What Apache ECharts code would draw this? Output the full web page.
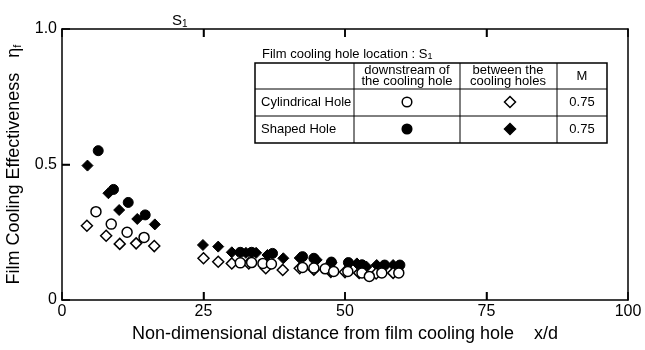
<!DOCTYPE html>
<html>
<head>
<meta charset="utf-8">
<script src="https://cdn.jsdelivr.net/npm/echarts@6/dist/echarts.min.js"></script>
<style>
  html, body { margin: 0; padding: 0; background: #fff; }
  #chart { width: 645px; height: 350px; }
</style>
</head>
<body>
<div id="chart"></div>
<script>
// cylindrical hole, downstream of the cooling hole (open circle)
var openCircleX = [6.0, 8.7, 11.5, 14.5, 31.5, 33.5, 35.5, 37.0, 42.5, 44.5, 46.5, 48.0, 50.5, 53.0, 54.3, 56.5, 59.5];
var openCircleY = [0.326, 0.280, 0.250, 0.231, 0.137, 0.138, 0.135, 0.133, 0.120, 0.118, 0.115, 0.105, 0.105, 0.100, 0.087, 0.100, 0.100];
// cylindrical hole, between the cooling holes (open diamond)
var openDiamondX = [4.4, 7.8, 10.2, 13.1, 16.3, 25.0, 27.6, 30.0, 33.0, 36.0, 39.0, 42.0, 44.5, 47.5, 50.0, 52.5, 55.5, 58.5];
var openDiamondY = [0.274, 0.237, 0.207, 0.209, 0.199, 0.154, 0.141, 0.135, 0.135, 0.117, 0.111, 0.117, 0.112, 0.104, 0.103, 0.100, 0.098, 0.100];
// shaped hole, downstream (filled circle)
var filledCircleX = [6.4, 9.1, 11.7, 14.7, 31.5, 33.5, 37.2, 42.5, 44.5, 47.6, 50.6, 53.0, 57.0, 59.7];
var filledCircleY = [0.551, 0.408, 0.360, 0.314, 0.176, 0.176, 0.172, 0.160, 0.154, 0.140, 0.138, 0.130, 0.129, 0.129];
// shaped hole, between (filled diamond)
var filledDiamondX = [4.5, 8.2, 10.1, 13.3, 16.4, 24.9, 27.6, 30.0, 32.5, 34.3, 36.3, 39.1, 42.0, 45.0, 47.6, 52.1, 53.8, 55.6, 58.5];
var filledDiamondY = [0.496, 0.394, 0.332, 0.299, 0.279, 0.203, 0.197, 0.176, 0.174, 0.174, 0.166, 0.154, 0.155, 0.148, 0.138, 0.135, 0.123, 0.129, 0.129];

var xTicks = [0, 25, 50, 75, 100];
var xInnerTicks = [25, 50, 75];
var yTickLabels = { 0: '0', 0.5: '0.5', 1: '1.0' };
var yInnerTicks = [0.5];

var tableRows = ['Cylindrical Hole', 'Shaped Hole'];
var tableM = ['0.75', '0.75'];

function pairs(xs, ys) {
  return xs.map(function (x, i) { return [x, ys[i]]; });
}

var font = 'Liberation Sans, Arial, sans-serif';
var chart = echarts.init(document.getElementById('chart'));

// legend table geometry
var tx = 255, ty = 63, tw = 352, th = 80;
var cols = [255, 354, 460, 557, 607];
var rows = [63, 89, 116, 143];

function hline(y) {
  return { type: 'line', shape: { x1: tx, y1: y, x2: tx + tw, y2: y }, style: { stroke: '#000', lineWidth: 1 } };
}
function vline(x) {
  return { type: 'line', shape: { x1: x, y1: ty, x2: x, y2: ty + th }, style: { stroke: '#000', lineWidth: 1 } };
}
function txt(x, y, s, size, align) {
  return { type: 'text', x: x, y: y, style: { text: s, fontSize: size || 13, fontFamily: font, fill: '#000', textAlign: align || 'left', textVerticalAlign: 'middle' } };
}
function diamond(cx, cy, filled) {
  return { type: 'polygon', shape: { points: [[cx, cy - 5.5], [cx + 5.5, cy], [cx, cy + 5.5], [cx - 5.5, cy]] },
    style: { fill: filled ? '#000' : '#fff', stroke: '#000', lineWidth: 1.5 } };
}
function circle(cx, cy, filled) {
  return { type: 'circle', shape: { cx: cx, cy: cy, r: 4.8 }, style: { fill: filled ? '#000' : '#fff', stroke: '#000', lineWidth: 1.5 } };
}

var graphics = [
  { type: 'text', x: 172, y: 12, style: { text: 'S{sub|1}', fontSize: 15, fontFamily: font, fill: '#000',
    rich: { sub: { fontSize: 10, fontFamily: font, padding: [7, 0, 0, 0] } } } },
  { type: 'text', x: 262, y: 47, style: { text: 'Film cooling hole location : S{sub|1}', fontSize: 13, fontFamily: font, fill: '#000',
    rich: { sub: { fontSize: 9, fontFamily: font, padding: [5, 0, 0, 0] } } } },
  { type: 'rect', shape: { x: tx, y: ty, width: tw, height: th }, style: { fill: '#fff', stroke: '#000', lineWidth: 1.5 } },
  hline(rows[1]), hline(rows[2]),
  vline(cols[1]), vline(cols[2]), vline(cols[3]),
  txt(407, 70, 'downstream of', 13, 'center'),
  txt(407, 81, 'the cooling hole', 13, 'center'),
  txt(508, 70, 'between the', 13, 'center'),
  txt(508, 81, 'cooling holes', 13, 'center'),
  txt(582, 76, 'M', 13, 'center'),
  txt(261, 102, tableRows[0], 13),
  txt(261, 129, tableRows[1], 13),
  txt(582, 102, tableM[0], 13, 'center'),
  txt(582, 129, tableM[1], 13, 'center'),
  circle(407, 102, false), diamond(510, 102, false),
  circle(407, 129, true), diamond(510, 129, true)
];

var tickStyle = { show: true, inside: true, length: 8, lineStyle: { color: '#000', width: 1.5 } };

var option = {
  backgroundColor: '#fff',
  animation: false,
  grid: { left: 62, right: 17, top: 29, bottom: 50, containLabel: false, outerBoundsMode: 'none' },
  xAxis: [{
    type: 'value', min: 0, max: 100, interval: 25, position: 'bottom',
    name: 'Non-dimensional distance from film cooling hole    x/d',
    nameLocation: 'middle', nameGap: 24,
    nameTextStyle: { fontSize: 18, color: '#000', fontFamily: font },
    axisLine: { show: true, onZero: false, lineStyle: { color: '#000', width: 1.5 } },
    axisTick: tickStyle,
    axisLabel: { fontSize: 16, color: '#000', fontFamily: font, margin: 4,
      formatter: function (v) { return xTicks.indexOf(v) >= 0 ? String(v) : ''; } },
    splitLine: { show: false }
  }, {
    type: 'value', min: 0, max: 100, interval: 25, position: 'top',
    axisLine: { show: true, onZero: false, lineStyle: { color: '#000', width: 1.5 } },
    axisTick: tickStyle,
    axisLabel: { show: false },
    splitLine: { show: false }
  }],
  yAxis: [{
    type: 'value', min: 0, max: 1, interval: 0.5, position: 'left',
    name: 'Film Cooling Effectiveness   \u03b7{sub|f}',
    nameLocation: 'middle', nameGap: 33, nameRotate: 90,
    nameTextStyle: { fontSize: 18, color: '#000', fontFamily: font,
      rich: { sub: { fontSize: 11, color: '#000', fontFamily: font, padding: [8, 0, 0, 0] } } },
    axisLine: { show: true, onZero: false, lineStyle: { color: '#000', width: 1.5 } },
    axisTick: tickStyle,
    axisLabel: { fontSize: 16, color: '#000', fontFamily: font, margin: 5,
      formatter: function (v) { return yTickLabels[v]; } },
    splitLine: { show: false }
  }, {
    type: 'value', min: 0, max: 1, interval: 0.5, position: 'right',
    axisLine: { show: true, onZero: false, lineStyle: { color: '#000', width: 1.5 } },
    axisTick: { show: false },
    axisLabel: { show: false },
    splitLine: { show: false }
  }],
  series: [{
    type: 'scatter', symbol: 'diamond', symbolSize: 11,
    itemStyle: { color: '#000', borderColor: '#000', borderWidth: 1, opacity: 1 },
    data: pairs(filledDiamondX, filledDiamondY)
  }, {
    type: 'scatter', symbol: 'circle', symbolSize: 10,
    itemStyle: { color: '#000', borderColor: '#000', borderWidth: 1, opacity: 1 },
    data: pairs(filledCircleX, filledCircleY)
  }, {
    type: 'scatter', symbol: 'diamond', symbolSize: 11,
    itemStyle: { color: '#fff', borderColor: '#000', borderWidth: 1.5, opacity: 1 },
    data: pairs(openDiamondX, openDiamondY)
  }, {
    type: 'scatter', symbol: 'circle', symbolSize: 10,
    itemStyle: { color: '#fff', borderColor: '#000', borderWidth: 1.5, opacity: 1 },
    data: pairs(openCircleX, openCircleY)
  }],
  graphic: graphics
};

chart.setOption(option);

// inner tick marks, placed through the axes' own scales
var y0 = chart.convertToPixel({ yAxisIndex: 0 }, 0);
var y1 = chart.convertToPixel({ yAxisIndex: 0 }, 1);
var x0 = chart.convertToPixel({ xAxisIndex: 0 }, 0);
var tickMarks = [];
xInnerTicks.forEach(function (v) {
  var px = chart.convertToPixel({ xAxisIndex: 0 }, v);
  tickMarks.push({ type: 'line', z: 100, shape: { x1: px, y1: y0, x2: px, y2: y0 - 8 }, style: { stroke: '#000', lineWidth: 1.5 } });
  tickMarks.push({ type: 'line', z: 100, shape: { x1: px, y1: y1, x2: px, y2: y1 + 8 }, style: { stroke: '#000', lineWidth: 1.5 } });
});
yInnerTicks.forEach(function (v) {
  var py = chart.convertToPixel({ yAxisIndex: 0 }, v);
  tickMarks.push({ type: 'line', z: 100, shape: { x1: x0, y1: py, x2: x0 + 8, y2: py }, style: { stroke: '#000', lineWidth: 1.5 } });
});
chart.setOption({ graphic: graphics.concat(tickMarks) });
</script>
</body>
</html>
